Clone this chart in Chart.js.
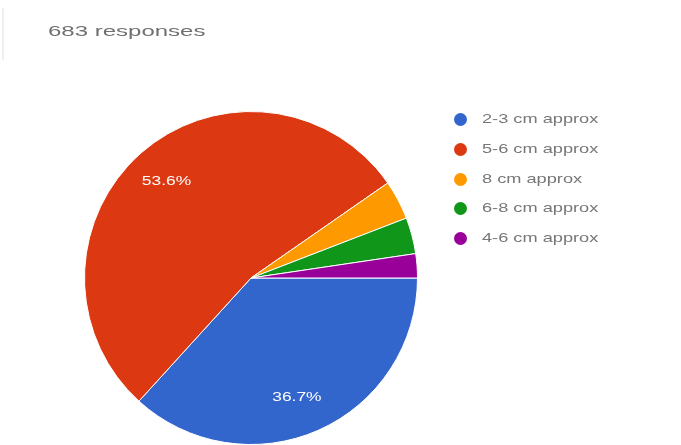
<!DOCTYPE html>
<html>
<head>
<meta charset="utf-8">
<script src="https://cdn.jsdelivr.net/npm/chart.js@4.4.1/dist/chart.umd.min.js"></script>
<style>
  html, body { margin: 0; padding: 0; background: #fff; }
  #wrap { position: relative; width: 681px; height: 445px; overflow: hidden; filter: blur(0.6px); }
  #edge { position: absolute; left: 2px; top: 8px; width: 2px; height: 52px; background: #efefef; }
  #title { position: absolute; left: 48px; top: 22px; font: 15px "Liberation Sans", Arial, sans-serif; color: #707070;
           transform: scaleX(1.6); transform-origin: left top; white-space: nowrap; }
  #legend { position: absolute; left: 454px; top: 111px; font: 13px "Liberation Sans", Arial, sans-serif; color: #777; }
  .item { height: 29.8px; display: flex; align-items: flex-start; white-space: nowrap; }
  .dot { width: 13px; height: 13px; border-radius: 50%; margin-right: 15px; margin-top: 2px; flex: none; }
  .txt { display: inline-block; transform: scaleX(1.4); transform-origin: left top; }
  canvas { position: absolute; left: 0; top: 0; }
</style>
</head>
<body>
<div id="wrap">
  <div id="edge"></div>
  <div id="title">683 responses</div>
  <canvas id="myChart" width="681" height="445"></canvas>
  <div id="legend"></div>
</div>
<script>
const categorias = ['2-3 cm approx', '5-6 cm approx', '8 cm approx', '6-8 cm approx', '4-6 cm approx'];
const respuestas = [251, 366, 26, 24, 16];
const colores = ['#3366cc', '#dc3912', '#ff9900', '#109618', '#990099'];

const total = respuestas.reduce((a, b) => a + b, 0);

// etiquetas de porcentaje dentro de las porciones grandes
const pctLabels = {
    id: 'pctLabels',
    afterDatasetsDraw(chart) {
        const ctx = chart.ctx;
        const meta = chart.getDatasetMeta(0);
        meta.data.forEach((arc, i) => {
            const pct = respuestas[i] / total * 100;
            if (pct < 5) return;
            const p = arc.getProps(['x', 'y', 'startAngle', 'endAngle', 'outerRadius'], true);
            const mid = (p.startAngle + p.endAngle) / 2 + (i === 0 ? 0.05 : 0);
            const r = p.outerRadius * 0.77;
            ctx.save();
            ctx.translate(p.x + Math.cos(mid) * r, p.y + Math.sin(mid) * r);
            ctx.scale(1.45, 1);
            ctx.fillStyle = '#ffffff';
            ctx.font = '12px "Liberation Sans", Arial, sans-serif';
            ctx.textAlign = 'center';
            ctx.textBaseline = 'middle';
            ctx.fillText(pct.toFixed(1) + '%', 0, 0);
            ctx.restore();
        });
    }
};

const legend = document.getElementById('legend');
categorias.forEach((cat, i) => {
    legend.innerHTML += `<div class="item"><span class="dot" style="background:${colores[i]}"></span><span class="txt">${cat}</span></div>`;
});

const myChart = document.getElementById('myChart');
new Chart(myChart, {
    type: 'pie',
    data: {
        labels: categorias,
        datasets: [{
            data: respuestas,
            backgroundColor: colores,
            borderColor: '#ffffff',
            borderWidth: 1
        }]
    },
    options: {
        responsive: false,
        animation: false,
        rotation: 90,
        layout: { padding: { left: 84, top: 111, right: 263, bottom: 0 } },
        plugins: {
            legend: { display: false },
            tooltip: { enabled: false }
        }
    },
    plugins: [pctLabels]
});
</script>
</body>
</html>
